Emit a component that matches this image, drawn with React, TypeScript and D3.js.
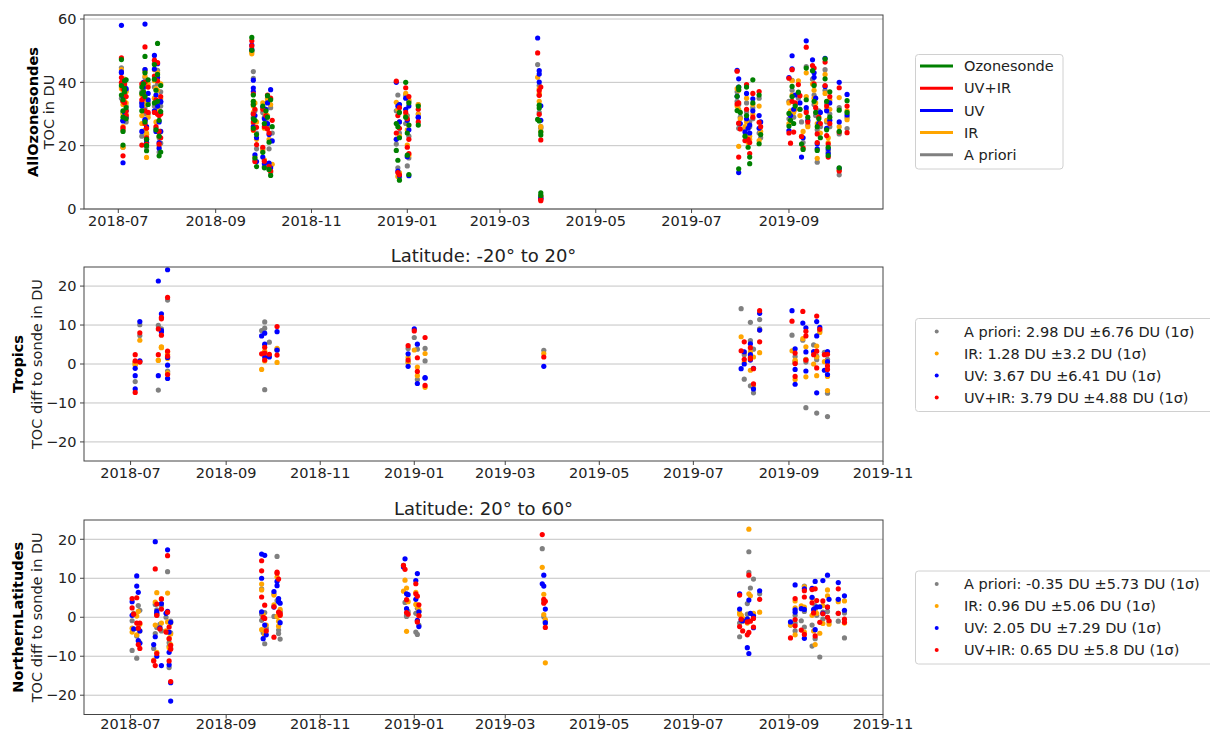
import * as d3 from "d3";

// rows: date, ozonesonde, UV+IR, UV, IR, a priori (TOC in DU)
type AllRow = [string, number, number, number, number, number];
// rows: date, a priori, IR, UV, UV+IR (difference to sonde in DU)
type DiffRow = [string, number, number, number, number];

const allEarlyJul2018: AllRow[] = [
  ["2018-07-03", 47.2, 47.7, 58.0, 44.0, 44.6],
  ["2018-07-03", 39.0, 41.5, 43.3, 38.0, 38.5],
  ["2018-07-03", 36.0, 40.0, 43.0, 39.5, 35.0],
  ["2018-07-04", 34.5, 38.0, 36.0, 37.5, 34.0],
  ["2018-07-04", 31.0, 34.0, 35.5, 33.0, 35.5],
  ["2018-07-04", 29.0, 25.0, 28.0, 30.0, 30.5],
  ["2018-07-04", 24.5, 25.7, 27.8, 26.0, 28.0],
  ["2018-07-04", 20.2, 16.8, 14.6, 19.5, 19.5],
  ["2018-07-05", 40.5, 39.5, 38.5, 41.0, 40.0],
  ["2018-07-05", 38.0, 36.0, 37.0, 39.0, 36.5],
  ["2018-07-05", 37.0, 33.5, 30.5, 34.0, 33.0],
  ["2018-07-06", 32.0, 29.5, 31.0, 30.0, 32.5],
  ["2018-07-06", 28.5, 31.0, 29.0, 33.5, 27.5],
  ["2018-07-06", 40.8, 35.5, 38.0, 37.0, 37.5],
];

const allMidJul2018: AllRow[] = [
  ["2018-07-16", 36.5, 34.5, 32.5, 29.5, 33.5],
  ["2018-07-16", 31.0, 20.2, 24.5, 27.0, 23.0],
  ["2018-07-16", 38.5, 39.5, 33.5, 36.0, 37.0],
  ["2018-07-17", 37.0, 35.0, 38.5, 34.0, 38.0],
  ["2018-07-17", 39.5, 36.8, 40.0, 37.0, 35.5],
  ["2018-07-18", 48.2, 51.2, 58.4, 42.0, 44.0],
  ["2018-07-18", 43.0, 40.0, 44.0, 43.5, 41.5],
  ["2018-07-18", 35.5, 31.0, 28.0, 33.0, 32.0],
  ["2018-07-18", 27.5, 27.0, 28.2, 25.0, 30.0],
  ["2018-07-19", 22.0, 22.5, 26.0, 24.0, 23.5],
  ["2018-07-19", 18.4, 20.5, 21.0, 16.3, 19.5],
  ["2018-07-19", 20.0, 25.5, 22.0, 23.5, 21.0],
  ["2018-07-20", 33.0, 30.5, 34.5, 29.0, 30.0],
  ["2018-07-20", 40.8, 38.5, 36.5, 39.5, 33.8],
];

const allLateJul2018: AllRow[] = [
  ["2018-07-24", 45.6, 47.0, 48.5, 44.0, 46.0],
  ["2018-07-24", 41.0, 42.0, 44.2, 40.5, 38.5],
  ["2018-07-24", 33.5, 30.5, 31.0, 35.0, 32.5],
  ["2018-07-25", 37.5, 34.5, 36.0, 38.0, 34.0],
  ["2018-07-25", 25.0, 26.0, 24.5, 27.5, 25.5],
  ["2018-07-26", 52.3, 46.2, 45.9, 43.0, 43.8],
  ["2018-07-26", 42.5, 40.5, 41.5, 37.5, 39.5],
  ["2018-07-26", 34.0, 30.0, 32.5, 30.0, 32.0],
  ["2018-07-27", 28.0, 29.5, 27.5, 31.0, 30.5],
  ["2018-07-27", 23.0, 24.5, 21.0, 23.0, 22.5],
  ["2018-07-27", 16.8, 20.5, 19.2, 20.0, 18.0],
  ["2018-07-28", 18.0, 22.5, 24.5, 24.5, 20.8],
  ["2018-07-28", 39.0, 35.5, 34.0, 39.5, 37.0],
  ["2018-07-28", 30.8, 30.0, 33.8, 34.8, 32.5],
];

const allSep2018: AllRow[] = [
  ["2018-09-24", 54.2, 53.1, 51.8, 49.6, 50.5],
  ["2018-09-24", 50.1, 51.5, 50.3, 49.0, 49.8],
  ["2018-09-25", 36.0, 36.3, 40.7, 34.0, 43.4],
  ["2018-09-25", 34.0, 33.0, 38.2, 32.5, 41.3],
  ["2018-09-25", 32.9, 30.0, 37.1, 30.5, 33.5],
  ["2018-09-25", 28.5, 27.5, 26.0, 27.0, 29.0],
  ["2018-09-25", 25.5, 25.0, 30.0, 24.8, 26.0],
  ["2018-09-26", 28.0, 31.5, 29.5, 33.5, 31.0],
  ["2018-09-26", 16.1, 15.0, 17.1, 16.5, 15.5],
  ["2018-09-27", 13.4, 20.3, 15.0, 22.0, 19.0],
  ["2018-09-27", 23.5, 25.8, 22.5, 27.5, 24.0],
];

const allOct2018: AllRow[] = [
  ["2018-10-01", 32.5, 31.5, 32.2, 33.5, 30.5],
  ["2018-10-01", 17.9, 19.5, 16.4, 18.5, 19.0],
  ["2018-10-02", 27.0, 26.0, 28.5, 25.5, 29.0],
  ["2018-10-02", 13.0, 15.1, 14.3, 15.5, 13.5],
  ["2018-10-03", 31.0, 29.5, 31.5, 30.0, 28.0],
  ["2018-10-04", 35.8, 36.0, 33.5, 34.5, 35.0],
  ["2018-10-04", 29.0, 25.3, 27.0, 29.5, 26.5],
  ["2018-10-05", 12.5, 13.5, 14.5, 13.0, 12.4],
  ["2018-10-05", 21.1, 24.0, 23.5, 22.0, 19.0],
  ["2018-10-06", 10.6, 12.0, 13.0, 12.0, 11.5],
  ["2018-10-06", 34.5, 35.0, 37.7, 33.0, 32.0],
  ["2018-10-07", 26.0, 28.0, 21.5, 14.1, 24.0],
];

const allJan2019: AllRow[] = [
  ["2018-12-25", 27.0, 40.4, 40.0, 33.7, 31.0],
  ["2018-12-25", 18.5, 24.0, 22.0, 22.1, 20.5],
  ["2018-12-26", 26.0, 29.5, 32.5, 31.5, 36.0],
  ["2018-12-26", 15.4, 11.5, 12.0, 10.3, 13.0],
  ["2018-12-27", 9.1, 10.8, 10.5, 11.5, 10.0],
  ["2018-12-27", 30.5, 32.0, 33.0, 27.5, 33.0],
  ["2018-12-27", 22.5, 25.5, 27.5, 23.0, 24.0],
  ["2018-12-31", 40.0, 38.3, 35.0, 36.5, 36.0],
  ["2018-12-31", 29.0, 30.5, 31.5, 29.5, 27.0],
  ["2019-01-01", 24.0, 28.5, 28.0, 25.0, 29.5],
  ["2019-01-01", 17.0, 19.5, 16.5, 20.2, 13.6],
  ["2019-01-02", 10.9, 17.5, 10.5, 17.0, 16.1],
  ["2019-01-02", 33.5, 35.5, 32.5, 34.5, 34.0],
  ["2019-01-02", 26.5, 22.0, 25.0, 26.5, 23.0],
  ["2019-01-08", 32.5, 31.5, 29.0, 33.0, 33.0],
  ["2019-01-08", 26.5, 27.5, 28.9, 30.0, 30.0],
];

const allMar2019: AllRow[] = [
  ["2019-03-25", 28.3, 49.3, 54.0, 41.6, 45.6],
  ["2019-03-26", 32.8, 37.4, 43.7, 38.0, 39.0],
  ["2019-03-26", 31.9, 35.9, 42.6, 36.5, 36.0],
  ["2019-03-26", 27.8, 29.9, 40.1, 34.0, 30.5],
  ["2019-03-27", 24.3, 21.8, 32.6, 24.5, 26.0],
  ["2019-03-27", 23.4, 38.5, 28.0, 26.0, 25.5],
  ["2019-03-27", 5.1, 2.6, 3.5, 4.0, 4.2],
  ["2019-03-27", 4.3, 3.0, 3.2, 3.5, 3.8],
];

const allAug2019: AllRow[] = [
  ["2019-07-30", 35.6, 43.5, 43.8, 38.0, 37.0],
  ["2019-07-30", 31.1, 33.2, 35.6, 32.5, 34.0],
  ["2019-07-31", 38.5, 27.1, 41.1, 37.5, 33.0],
  ["2019-07-31", 37.7, 33.5, 38.5, 31.5, 27.0],
  ["2019-07-31", 12.7, 16.4, 11.5, 19.8, 25.5],
  ["2019-08-01", 30.5, 25.3, 27.0, 28.5, 29.0],
  ["2019-08-04", 23.0, 21.6, 24.3, 26.0, 25.0],
  ["2019-08-05", 38.5, 39.3, 36.5, 35.0, 33.5],
  ["2019-08-05", 29.5, 31.5, 28.5, 27.5, 30.6],
  ["2019-08-06", 19.5, 22.0, 25.5, 21.0, 23.5],
  ["2019-08-07", 16.4, 21.0, 24.0, 23.0, 26.0],
  ["2019-08-07", 14.3, 17.5, 26.5, 22.0, 27.5],
  ["2019-08-09", 40.8, 36.5, 34.8, 33.0, 32.0],
  ["2019-08-09", 33.5, 29.0, 31.0, 30.0, 28.5],
  ["2019-08-13", 36.0, 37.1, 29.5, 32.5, 35.0],
  ["2019-08-13", 20.6, 27.4, 25.5, 21.6, 24.0],
  ["2019-08-14", 23.5, 26.0, 27.5, 24.5, 22.5],
];

const allSep2019: AllRow[] = [
  ["2019-09-01", 30.2, 41.3, 41.5, 33.5, 34.0],
  ["2019-09-01", 26.2, 24.0, 24.8, 27.0, 28.5],
  ["2019-09-02", 28.0, 20.8, 29.5, 31.0, 30.0],
  ["2019-09-03", 38.7, 44.0, 48.4, 40.5, 40.6],
  ["2019-09-03", 35.5, 34.0, 44.3, 36.0, 37.5],
  ["2019-09-04", 27.0, 24.3, 31.5, 30.5, 29.0],
  ["2019-09-05", 32.5, 33.5, 36.0, 31.5, 33.0],
  ["2019-09-07", 36.9, 39.3, 36.5, 40.5, 35.0],
  ["2019-09-08", 31.5, 35.8, 33.5, 29.5, 31.5],
  ["2019-09-09", 20.5, 22.9, 16.4, 23.0, 27.5],
  ["2019-09-10", 18.8, 19.3, 22.5, 24.5, 21.0],
  ["2019-09-12", 44.5, 51.1, 53.1, 43.0, 45.0],
  ["2019-09-12", 34.5, 30.5, 32.0, 35.5, 31.0],
  ["2019-09-13", 29.0, 27.5, 28.0, 26.0, 26.5],
  ["2019-09-16", 43.7, 45.3, 47.1, 39.5, 41.0],
  ["2019-09-17", 39.0, 44.5, 43.0, 37.5, 36.0],
  ["2019-09-17", 34.0, 39.5, 41.6, 35.0, 33.0],
  ["2019-09-18", 30.5, 32.0, 35.0, 33.5, 29.5],
  ["2019-09-19", 26.0, 23.7, 20.6, 27.0, 25.0],
  ["2019-09-19", 18.5, 21.0, 19.0, 16.0, 14.8],
  ["2019-09-20", 28.5, 29.0, 27.0, 30.0, 31.0],
  ["2019-09-21", 22.5, 27.0, 30.5, 24.0, 26.0],
  ["2019-09-24", 47.4, 46.4, 47.6, 42.5, 44.0],
  ["2019-09-24", 41.1, 39.0, 38.7, 36.5, 37.5],
  ["2019-09-25", 34.0, 32.5, 31.0, 31.5, 33.4],
  ["2019-09-25", 25.0, 23.2, 25.5, 28.0, 27.5],
  ["2019-09-26", 16.9, 16.4, 19.0, 21.0, 18.5],
  ["2019-09-26", 19.5, 20.5, 17.5, 22.5, 18.0],
  ["2019-09-27", 29.0, 27.0, 28.0, 31.5, 26.0],
  ["2019-09-27", 37.0, 35.5, 33.5, 34.5, 30.0],
];

const allOct2019: AllRow[] = [
  ["2019-10-03", 31.2, 38.3, 40.0, 35.2, 32.0],
  ["2019-10-03", 24.5, 24.3, 27.5, 26.0, 23.7],
  ["2019-10-03", 13.0, 12.0, 12.8, 12.2, 10.8],
  ["2019-10-08", 34.2, 32.5, 36.2, 28.2, 25.4],
  ["2019-10-08", 30.5, 24.1, 29.7, 31.0, 29.0],
];

const tropicsJul2018: DiffRow[] = [
  ["2018-07-04", -4.5, -0.3, -6.4, -7.3],
  ["2018-07-04", 0.5, 0.2, -3.0, 0.8],
  ["2018-07-04", 0.0, 0.5, -1.1, 2.4],
  ["2018-07-07", 10.1, 6.1, 10.9, 8.0],
  ["2018-07-07", 7.3, 0.7, 0.8, 0.5],
  ["2018-07-19", 9.9, 1.0, -3.0, 9.0],
  ["2018-07-19", -6.7, 0.9, 21.3, 2.4],
  ["2018-07-21", 8.7, 4.4, 12.9, 12.0],
  ["2018-07-21", 9.0, 4.2, 8.3, 11.6],
  ["2018-07-21", 8.5, 4.3, 8.6, 7.4],
  ["2018-07-25", 16.4, 3.1, 24.2, 17.1],
  ["2018-07-25", -1.8, 1.4, 1.7, 3.3],
  ["2018-07-25", -2.5, 2.5, -0.3, 2.0],
  ["2018-07-25", -2.0, -2.3, -3.7, -2.7],
];

const tropicsSep2018: DiffRow[] = [
  ["2018-09-24", 8.6, -1.4, 7.2, 2.6],
  ["2018-09-26", 10.8, 3.3, 7.9, 4.3],
  ["2018-09-26", 9.2, 0.8, 5.1, 2.8],
  ["2018-09-26", -6.6, 3.1, 1.8, 1.0],
  ["2018-09-29", 5.6, 2.2, 1.8, 2.5],
  ["2018-10-04", 3.8, 4.0, 8.3, 9.6],
  ["2018-10-04", 3.5, 0.4, 3.6, 2.3],
];

const tropicsJan2019: DiffRow[] = [
  ["2018-12-28", 4.0, 1.7, 2.6, 4.7],
  ["2018-12-28", 0.5, 0.3, -0.6, 1.0],
  ["2019-01-01", 6.8, 3.6, 9.0, 8.5],
  ["2019-01-03", 3.8, -0.8, 5.1, 1.6],
  ["2019-01-03", -4.0, -3.0, -5.0, -1.9],
  ["2019-01-08", 4.0, 2.7, -3.6, 6.8],
  ["2019-01-08", 0.8, -6.0, -3.5, -5.5],
];

const tropicsMar2019: DiffRow[] = [["2019-03-26", 3.5, 2.7, -0.6, 1.8]];

const tropicsAug2019: DiffRow[] = [
  ["2019-08-01", 14.2, 7.0, -1.2, 3.4],
  ["2019-08-03", 2.4, 3.0, 3.1, 5.7],
  ["2019-08-03", -3.9, 0.5, 0.0, 1.2],
  ["2019-08-07", 10.7, 3.1, 5.2, 4.2],
  ["2019-08-07", 6.0, 1.8, 2.4, 1.6],
  ["2019-08-07", -5.6, -1.6, 1.0, 1.3],
  ["2019-08-09", 3.8, 1.8, -1.1, -1.2],
  ["2019-08-09", -7.4, -5.5, -6.4, -5.1],
  ["2019-08-13", 11.4, 8.7, 13.0, 13.7],
  ["2019-08-13", 9.0, 2.9, 8.7, 5.7],
];

const tropicsSep2019: DiffRow[] = [
  ["2019-09-03", 7.4, 3.4, 13.7, 11.0],
  ["2019-09-05", 1.9, 1.0, 3.9, 2.8],
  ["2019-09-05", 0.7, -4.0, -5.2, -3.2],
  ["2019-09-05", 0.2, 0.6, -1.4, 0.1],
  ["2019-09-10", 6.1, 6.5, 10.5, 13.5],
  ["2019-09-12", 1.2, 4.4, 9.3, 8.4],
  ["2019-09-12", -11.2, 1.1, 3.1, 7.2],
  ["2019-09-12", 0.5, -3.3, -1.8, 1.0],
  ["2019-09-17", 4.9, 0.0, 3.2, 2.4],
  ["2019-09-19", 1.1, 4.6, 10.9, 12.3],
  ["2019-09-19", -12.6, 1.8, 7.2, 3.3],
  ["2019-09-19", 2.0, -3.0, -7.4, -1.0],
  ["2019-09-21", 8.5, 8.1, 9.4, 8.9],
  ["2019-09-24", 3.0, 0.6, -1.6, 2.4],
  ["2019-09-26", 1.2, -3.2, 3.2, 2.5],
  ["2019-09-26", -7.5, -6.8, 0.6, -0.5],
  ["2019-09-26", -13.5, 0.5, -2.7, -1.4],
];

const northernJul2018: DiffRow[] = [
  ["2018-07-02", -8.5, -2.8, 4.0, 2.4],
  ["2018-07-02", -0.9, -3.8, 0.5, 4.8],
  ["2018-07-03", 1.0, 0.8, -3.0, 0.8],
  ["2018-07-05", -10.5, -4.5, 10.6, 5.0],
  ["2018-07-05", -4.8, 0.3, 8.0, -1.5],
  ["2018-07-06", -3.0, -1.6, 6.4, -2.8],
  ["2018-07-06", 3.0, 1.5, -6.0, -7.0],
  ["2018-07-07", -6.5, -3.5, -3.5, -8.0],
  ["2018-07-07", 1.8, -1.8, -6.7, -1.5],
  ["2018-07-16", -8.0, -11.0, -7.0, -11.2],
  ["2018-07-17", 3.3, 3.9, 19.4, 12.4],
  ["2018-07-17", -4.2, -2.0, -5.0, -12.4],
  ["2018-07-18", 1.9, 0.8, 1.0, 3.4],
  ["2018-07-18", -2.6, -9.0, -10.0, -9.3],
  ["2018-07-18", 0.5, 6.3, 1.5, 0.5],
  ["2018-07-20", -1.8, -2.5, -2.7, -3.0],
  ["2018-07-21", 3.0, 4.7, 3.5, 4.7],
  ["2018-07-21", -3.5, -1.5, -12.4, 2.1],
  ["2018-07-24", 0.0, -3.5, 1.0, -3.8],
  ["2018-07-25", 11.7, 6.2, 17.3, 15.8],
  ["2018-07-25", -3.8, -1.2, 1.5, 1.3],
  ["2018-07-26", -6.5, -4.0, -3.8, -2.5],
  ["2018-07-26", -7.4, -5.5, -9.0, -5.5],
  ["2018-07-26", -12.9, -7.8, -12.2, -11.2],
  ["2018-07-27", -4.0, -4.3, -16.8, -16.5],
  ["2018-07-27", -8.0, -7.0, -21.5, -7.2],
  ["2018-07-27", -1.0, -1.5, -1.3, -8.2],
];

const northernSep2018: DiffRow[] = [
  ["2018-09-24", 7.3, 7.0, 16.2, 14.5],
  ["2018-09-24", 0.8, 8.5, 10.0, 11.9],
  ["2018-09-24", -0.8, -3.2, 1.4, 5.2],
  ["2018-09-25", -4.0, 0.7, -5.5, 0.0],
  ["2018-09-26", -6.8, -4.5, 15.9, 3.1],
  ["2018-09-26", 1.2, -3.5, -2.0, -0.3],
  ["2018-09-27", -2.8, -2.0, -4.5, -3.5],
  ["2018-10-02", 6.0, 5.7, 6.6, 2.7],
  ["2018-10-02", 0.2, 3.2, 2.6, -5.1],
  ["2018-10-04", 15.6, 10.3, 9.2, 11.6],
  ["2018-10-04", 4.3, 0.2, 8.1, 11.3],
  ["2018-10-05", -3.3, -1.0, 4.8, 9.8],
  ["2018-10-05", -4.2, -2.3, 4.0, 1.3],
  ["2018-10-06", -5.6, 0.6, 3.6, 0.5],
  ["2018-10-06", 1.5, 2.0, -1.4, 1.0],
];

const northernJan2019: DiffRow[] = [
  ["2018-12-25", 13.3, 6.7, 12.9, 13.3],
  ["2018-12-26", 3.8, 9.5, 15.0, 12.3],
  ["2018-12-27", 0.2, 7.5, 6.0, 4.5],
  ["2018-12-27", 0.5, -3.6, 2.2, 1.2],
  ["2018-12-28", 1.5, 4.0, 5.8, 0.8],
  ["2019-01-02", -3.8, 6.4, 9.4, 8.6],
  ["2019-01-02", 1.0, 3.3, 4.6, 6.0],
  ["2019-01-03", -4.4, -1.0, -0.8, -1.2],
  ["2019-01-03", 2.3, 2.8, 11.2, 5.4],
  ["2019-01-04", 1.5, 0.5, 1.4, 3.2],
  ["2019-01-04", -2.0, 2.0, -2.4, 0.4],
];

const northernMar2019: DiffRow[] = [
  ["2019-03-25", 17.6, 12.8, 8.6, 21.2],
  ["2019-03-26", 4.2, 5.9, 10.8, 4.6],
  ["2019-03-26", 0.1, 0.7, 8.0, 3.6],
  ["2019-03-27", -1.5, -11.7, 2.1, 4.1],
  ["2019-03-27", -1.0, -0.6, -1.4, -2.6],
];

const northernAug2019: DiffRow[] = [
  ["2019-07-31", -5.0, 1.2, 6.0, 5.7],
  ["2019-07-31", -1.5, 0.8, 2.1, -2.4],
  ["2019-08-01", 0.5, 0.5, -0.7, -0.5],
  ["2019-08-02", -1.0, -0.3, -0.9, -3.5],
  ["2019-08-05", 3.5, -1.5, -7.8, -4.5],
  ["2019-08-05", 0.8, -0.8, -0.4, -1.2],
  ["2019-08-06", 16.8, 22.6, 4.4, 10.8],
  ["2019-08-06", 11.5, 6.0, -9.3, -3.9],
  ["2019-08-07", 7.5, 5.5, 1.0, -1.0],
  ["2019-08-09", 9.8, 1.0, -2.7, -0.3],
  ["2019-08-09", 0.5, 0.6, 0.3, -2.5],
  ["2019-08-13", 6.0, 1.3, 6.8, 4.6],
];

const northernSep2019: DiffRow[] = [
  ["2019-09-02", -2.0, -2.0, -1.2, -5.3],
  ["2019-09-05", -3.5, 4.2, 8.3, 4.8],
  ["2019-09-05", 0.5, 2.4, 1.9, -0.6],
  ["2019-09-05", -1.5, -4.5, 1.3, -2.2],
  ["2019-09-09", -0.9, 2.9, 2.2, -3.3],
  ["2019-09-11", 8.0, 7.8, 7.3, 6.8],
  ["2019-09-11", 1.5, 2.6, 2.0, 5.2],
  ["2019-09-11", -2.5, -3.8, -5.4, -4.4],
  ["2019-09-16", -2.0, 4.9, 7.4, 7.1],
  ["2019-09-16", -7.4, 0.5, 5.1, 3.7],
  ["2019-09-17", 1.0, -3.5, 2.0, 1.1],
  ["2019-09-18", 3.0, 2.0, 9.2, 7.3],
  ["2019-09-18", -5.5, -7.0, -3.2, -4.8],
  ["2019-09-19", 0.5, 1.0, 2.6, 4.3],
  ["2019-09-21", -10.2, -4.1, 2.7, -1.3],
  ["2019-09-23", 1.3, 3.0, 9.4, 4.2],
  ["2019-09-23", -0.5, -1.6, 1.0, 0.9],
  ["2019-09-26", 1.5, 7.0, 10.8, 2.6],
  ["2019-09-26", 0.0, 5.5, 2.6, 0.0],
  ["2019-09-27", -1.2, -1.8, 4.6, -0.9],
  ["2019-10-03", 1.0, 4.0, 8.9, 7.3],
  ["2019-10-03", -1.0, 4.5, 4.6, 1.0],
  ["2019-10-07", 1.1, 4.2, 5.5, -0.5],
  ["2019-10-07", -5.3, -1.5, 1.8, -1.3],
];

const allRows: AllRow[] = [
  ...allEarlyJul2018, ...allMidJul2018, ...allLateJul2018, ...allSep2018, ...allOct2018,
  ...allJan2019, ...allMar2019, ...allAug2019, ...allSep2019, ...allOct2019,
];
const tropicsRows: DiffRow[] = [
  ...tropicsJul2018, ...tropicsSep2018, ...tropicsJan2019, ...tropicsMar2019,
  ...tropicsAug2019, ...tropicsSep2019,
];
const northernRows: DiffRow[] = [
  ...northernJul2018, ...northernSep2018, ...northernJan2019, ...northernMar2019,
  ...northernAug2019, ...northernSep2019,
];

// legends
const allLegendLabels = ["Ozonesonde", "UV+IR", "UV", "IR", "A priori"];
const allLegendColors = ["green", "red", "blue", "orange", "gray"];
const diffColors = ["gray", "orange", "blue", "red"];
const tropicsLegend = [
  "A priori: 2.98 DU \u00b16.76 DU (1\u03c3)",
  "IR: 1.28 DU \u00b13.2 DU (1\u03c3)",
  "UV: 3.67 DU \u00b16.41 DU (1\u03c3)",
  "UV+IR: 3.79 DU \u00b14.88 DU (1\u03c3)",
];
const northernLegend = [
  "A priori: -0.35 DU \u00b15.73 DU (1\u03c3)",
  "IR: 0.96 DU \u00b15.06 DU (1\u03c3)",
  "UV: 2.05 DU \u00b17.29 DU (1\u03c3)",
  "UV+IR: 0.65 DU \u00b15.8 DU (1\u03c3)",
];

// ticks
const topYTicks = [0, 20, 40, 60];
const diffYTicks = [-20, -10, 0, 10, 20];
const topXTicks = ["2018-07", "2018-09", "2018-11", "2019-01", "2019-03", "2019-05", "2019-07", "2019-09"];
const diffXTicks = [...topXTicks, "2019-11"];

const FONT = "'DejaVu Sans', sans-serif";
const day = (s: string) => new Date(s.length === 7 ? s + "-01T00:00:00Z" : s + "T00:00:00Z");
const fmtY = (v: number) => (v < 0 ? "\u2212" + Math.abs(v) : String(v));

type Box = { left: number; right: number; top: number; bottom: number };
type Pt = { date: string; value: number; color: string };

type PanelProps = {
  box: Box;
  xDomain: [Date, Date];
  yDomain: [number, number];
  yTicks: number[];
  xTicks: string[];
  points: Pt[];
  boldLabel: string;
  label: string;
  labelX: [number, number];
  tickLabelDy: number;
  title?: string;
};

const Panel = ({ box, xDomain, yDomain, yTicks, xTicks, points, boldLabel, label, labelX, tickLabelDy, title }: PanelProps) => {
  const x = d3.scaleUtc().domain(xDomain).range([box.left, box.right]);
  const y = d3.scaleLinear().domain(yDomain).range([box.bottom, box.top]);
  const cy = (box.top + box.bottom) / 2;
  return (
    <g fontFamily={FONT}>
      {/* grid */}
      {yTicks.map((t) => (
        <line key={"g" + t} x1={box.left} x2={box.right} y1={y(t)} y2={y(t)} stroke="#c4c4c4" strokeWidth={1} />
      ))}
      {/* points */}
      {points.map((p, i) => (
        <circle key={i} cx={x(day(p.date))} cy={y(p.value)} r={2.6} fill={p.color} />
      ))}
      {/* frame */}
      <rect
        x={box.left}
        y={box.top}
        width={box.right - box.left}
        height={box.bottom - box.top}
        fill="none"
        stroke="#444"
        strokeWidth={1}
      />
      {yTicks.map((t) => (
        <g key={"y" + t}>
          <line x1={box.left - 4} x2={box.left} y1={y(t)} y2={y(t)} stroke="#444" />
          <text x={box.left - 7.5} y={y(t)} dy="0.36em" textAnchor="end" fontSize={14.5} fill="#222">
            {fmtY(t)}
          </text>
        </g>
      ))}
      {xTicks.map((t) => (
        <g key={"x" + t}>
          <line x1={x(day(t))} x2={x(day(t))} y1={box.bottom} y2={box.bottom + 4} stroke="#444" />
          <text x={x(day(t))} y={box.bottom + tickLabelDy} textAnchor="middle" fontSize={14.5} fill="#222">
            {t}
          </text>
        </g>
      ))}
      <text transform={`translate(${labelX[0]},${cy}) rotate(-90)`} textAnchor="middle" fontSize={14.5} fontWeight="bold">
        {boldLabel}
      </text>
      <text transform={`translate(${labelX[1]},${cy}) rotate(-90)`} textAnchor="middle" fontSize={14.5} fill="#222">
        {label}
      </text>
      {title && (
        <text x={(box.left + box.right) / 2} y={box.top - 5.5} textAnchor="middle" fontSize={18} fill="#222">
          {title}
        </text>
      )}
    </g>
  );
};

const allPoints = (): Pt[] => {
  // plotting order: a priori, IR, UV, UV+IR, ozonesonde
  const order: [number, string][] = [[5, "gray"], [4, "orange"], [3, "blue"], [2, "red"], [1, "green"]];
  const pts: Pt[] = [];
  order.forEach(([idx, color]) => allRows.forEach((r) => pts.push({ date: r[0], value: r[idx] as number, color })));
  return pts;
};

const diffPoints = (rows: DiffRow[]): Pt[] => {
  const pts: Pt[] = [];
  diffColors.forEach((color, k) => rows.forEach((r) => pts.push({ date: r[0], value: r[k + 1] as number, color })));
  return pts;
};

const DiffLegend = ({ top, labels }: { top: number; labels: string[] }) => (
  <g fontFamily={FONT}>
    <rect x={915.5} y={top} width={310} height={93} rx={3} fill="white" stroke="#d0d0d0" />
    {labels.map((l, i) => (
      <g key={l}>
        <circle cx={936.7} cy={top + 13 + i * 22} r={2} fill={diffColors[i]} />
        <text x={964} y={top + 13 + i * 22} dy="0.36em" fontSize={14.5} fill="#222">
          {l}
        </text>
      </g>
    ))}
  </g>
);

export default function App() {
  const topBox: Box = { left: 84, right: 883, top: 15, bottom: 209 };
  const midBox: Box = { left: 84, right: 883, top: 267, bottom: 461 };
  const botBox: Box = { left: 84, right: 883, top: 520, bottom: 714.5 };
  const topX: [Date, Date] = [new Date("2018-06-09T04:00:00Z"), new Date("2019-10-30T21:00:00Z")];
  const diffX: [Date, Date] = [new Date("2018-05-31T19:00:00Z"), new Date("2019-11-01T00:00:00Z")];

  return (
    <svg
      width={1210}
      height={732}
      style={{ position: "absolute", left: 0, top: 0, background: "white" }}
    >
      <Panel
        box={topBox}
        xDomain={topX}
        yDomain={[0, 61.27]}
        yTicks={topYTicks}
        xTicks={topXTicks}
        points={allPoints()}
        boldLabel="AllOzonesondes"
        label="TOC in DU"
        labelX={[37.5, 54]}
        tickLabelDy={17}
      />
      <Panel
        box={midBox}
        xDomain={diffX}
        yDomain={[-24.9, 24.9]}
        yTicks={diffYTicks}
        xTicks={diffXTicks}
        points={diffPoints(tropicsRows)}
        boldLabel="Tropics"
        label="TOC diff to sonde in DU"
        labelX={[22.5, 41.5]}
        tickLabelDy={17}
        title={"Latitude: -20\u00b0 to 20\u00b0"}
      />
      <Panel
        box={botBox}
        xDomain={diffX}
        yDomain={[-24.95, 24.95]}
        yTicks={diffYTicks}
        xTicks={diffXTicks}
        points={diffPoints(northernRows)}
        boldLabel="NorthernLatitudes"
        label="TOC diff to sonde in DU"
        labelX={[23, 41.5]}
        tickLabelDy={14}
        title={"Latitude: 20\u00b0 to 60\u00b0"}
      />
      {/* top legend */}
      <g fontFamily={FONT}>
        <rect x={915.5} y={54.5} width={147.5} height={114.5} rx={3} fill="white" stroke="#d0d0d0" />
        {allLegendLabels.map((l, i) => (
          <g key={l}>
            <line x1={920} x2={953} y1={66 + i * 22.2} y2={66 + i * 22.2} stroke={allLegendColors[i]} strokeWidth={3} />
            <text x={964} y={66 + i * 22.2} dy="0.36em" fontSize={14.5} fill="#222">
              {l}
            </text>
          </g>
        ))}
      </g>
      <DiffLegend top={318.5} labels={tropicsLegend} />
      <DiffLegend top={571} labels={northernLegend} />
    </svg>
  );
}
